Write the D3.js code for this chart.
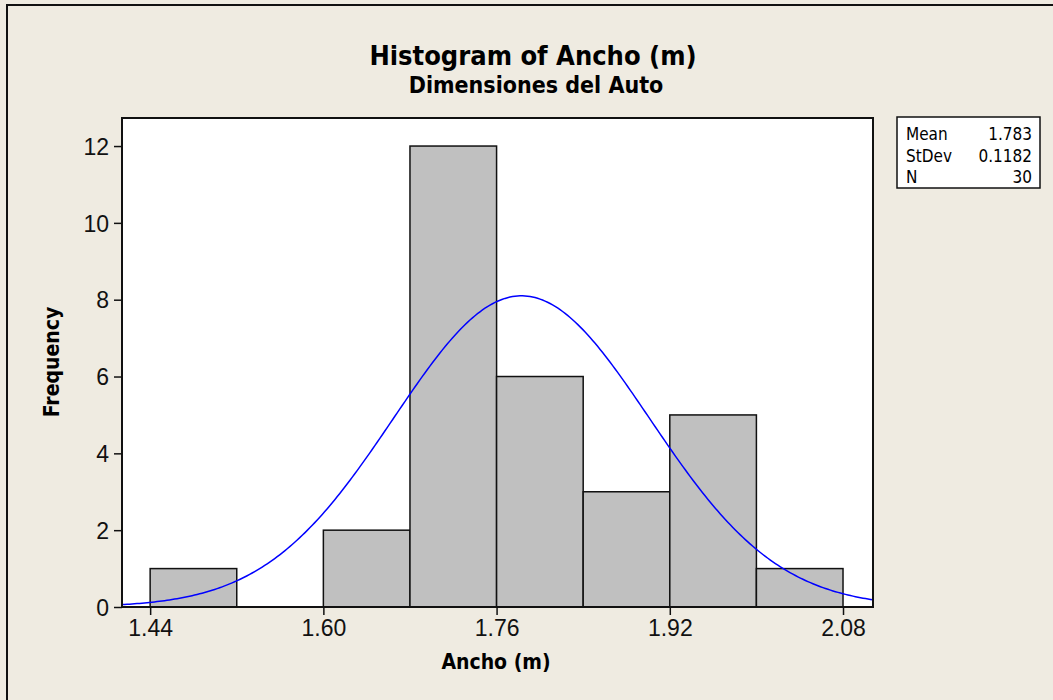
<!DOCTYPE html>
<html>
<head>
<meta charset="utf-8">
<script src="https://cdn.jsdelivr.net/npm/d3@7"></script>
<style>
  body { margin: 0; background: #efebe1; }
  svg { display: block; font-family: "DejaVu Sans Condensed", "DejaVu Sans", sans-serif; font-stretch: condensed; }
</style>
</head>
<body>
<svg id="chart" width="1053" height="700"></svg>
<script>
// histogram of car widths, minitab style
let binStarts = [1.44, 1.52, 1.60, 1.68, 1.76, 1.84, 1.92, 2.00];
let counts = [1, 0, 2, 12, 6, 3, 5, 1];
let binWidth = 0.08;
let xTicks = [1.44, 1.60, 1.76, 1.92, 2.08];
let yTicks = [0, 2, 4, 6, 8, 10, 12];
let statNames = ["Mean", "StDev", "N"];
let statValues = ["1.783", "0.1182", "30"];
let mean = 1.783, sd = 0.1182, n = 30;

function histogram(chart) {
    var margin = { top: 118, left: 122 },
        width = 873 - 122,
        height = 607 - 118;

    let svg = d3.select("#" + chart);

    // outer frame (cut off at right / bottom like the screenshot)
    svg.append("rect")
        .attr("x", 7).attr("y", 5)
        .attr("width", 1100).attr("height", 750)
        .attr("fill", "#efebe1")
        .attr("stroke", "#111").attr("stroke-width", 2);

    let g = svg.append("g").attr("transform", "translate(" + margin.left + "," + margin.top + ")");

    let x = d3.scaleLinear()
        .domain([1.414, 2.1077])
        .range([0, width]);

    let y = d3.scaleLinear()
        .domain([0, 12.73])
        .range([height, 0]);

    g.append("rect")
        .attr("width", width).attr("height", height)
        .attr("fill", "white");

    // bars
    g.selectAll(".bar")
        .data(binStarts.map((b, i) => ({ x0: b, count: counts[i] })).filter(d => d.count > 0))
        .enter()
        .append("rect")
        .attr("class", "bar")
        .attr("x", d => x(d.x0))
        .attr("y", d => y(d.count))
        .attr("width", d => x(d.x0 + binWidth) - x(d.x0))
        .attr("height", d => height - y(d.count))
        .attr("fill", "#c0c0c0")
        .attr("stroke", "#111")
        .attr("stroke-width", 1.5);

    // fitted normal curve from the mean / stdev shown in the legend
    let scale = n * binWidth;
    let curve = d3.range(0, 301).map(i => {
        let v = x.domain()[0] + (x.domain()[1] - x.domain()[0]) * i / 300;
        let z = (v - mean) / sd;
        return [v, scale * Math.exp(-0.5 * z * z) / (sd * Math.sqrt(2 * Math.PI))];
    });
    g.append("path")
        .datum(curve)
        .attr("fill", "none")
        .attr("stroke", "#0000ff")
        .attr("stroke-width", 1.5)
        .attr("d", d3.line().x(d => x(d[0])).y(d => y(d[1])));

    g.append("rect")
        .attr("width", width).attr("height", height)
        .attr("fill", "none")
        .attr("stroke", "#111").attr("stroke-width", 2);

    // axes
    let xAxis = g.append("g")
        .attr("transform", "translate(0," + height + ")")
        .call(d3.axisBottom(x).tickValues(xTicks).tickFormat(d3.format(".2f")).tickSize(8).tickPadding(5));
    let yAxis = g.append("g")
        .call(d3.axisLeft(y).tickValues(yTicks).tickSize(8).tickPadding(5));

    [xAxis, yAxis].forEach(a => {
        a.select(".domain").remove();
        a.selectAll("line").attr("stroke", "#111").attr("stroke-width", 1.5);
        a.selectAll("text").attr("font-size", 23).attr("fill", "#111")
            .attr("font-family", null);
    });
    yAxis.selectAll("text").attr("dy", "0.36em");

    // titles
    svg.append("text")
        .attr("x", 533).attr("y", 65)
        .attr("text-anchor", "middle")
        .attr("font-size", 27).attr("font-weight", "bold")
        .text("Histogram of Ancho (m)");
    svg.append("text")
        .attr("x", 536).attr("y", 93)
        .attr("text-anchor", "middle")
        .attr("font-size", 23).attr("font-weight", "bold")
        .text("Dimensiones del Auto");
    svg.append("text")
        .attr("x", 496).attr("y", 669)
        .attr("text-anchor", "middle")
        .attr("font-size", 21).attr("font-weight", "bold")
        .text("Ancho (m)");
    svg.append("text")
        .attr("transform", "translate(59,362) rotate(-90)")
        .attr("text-anchor", "middle")
        .attr("font-size", 21).attr("font-weight", "bold")
        .text("Frequency");

    // stats box
    let leg = svg.append("g").attr("transform", "translate(897,117)");
    leg.append("rect")
        .attr("width", 143).attr("height", 71)
        .attr("fill", "white")
        .attr("stroke", "#111").attr("stroke-width", 1.5);
    statNames.forEach((s, i) => {
        leg.append("text")
            .attr("x", 9).attr("y", 23 + i * 21.5)
            .attr("font-size", 17)
            .text(s);
        leg.append("text")
            .attr("x", 135).attr("y", 23 + i * 21.5)
            .attr("text-anchor", "end")
            .attr("font-size", 17)
            .text(statValues[i]);
    });
}

histogram("chart");
</script>
</body>
</html>
